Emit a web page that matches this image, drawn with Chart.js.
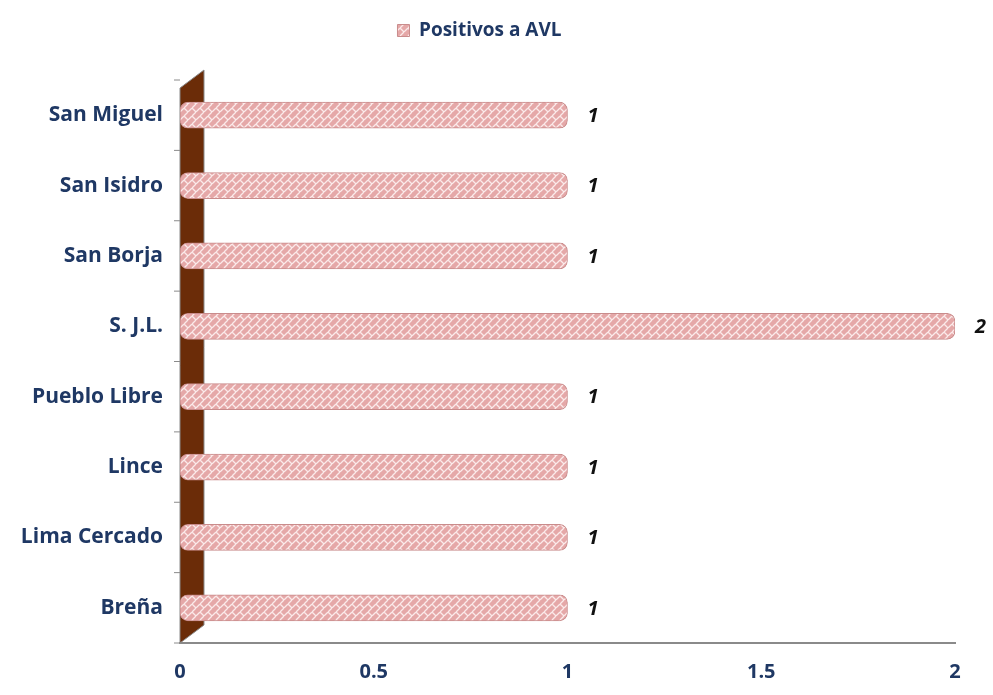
<!DOCTYPE html>
<html lang="es">
<head>
<meta charset="UTF-8">
<title>Positivos a AVL</title>
<script src="https://cdn.jsdelivr.net/npm/chart.js"></script>
<style>
    body { margin: 0; background: #fff; }
    #wrap { width: 993px; height: 695px; position: relative; }
</style>
</head>
<body>
<div id="wrap"><canvas id="chart"></canvas></div>
<script>
    const categories = ['San Miguel', 'San Isidro', 'San Borja', 'S. J.L.', 'Pueblo Libre', 'Lince', 'Lima Cercado', 'Breña'];
    const positivos = [1, 1, 1, 2, 1, 1, 1, 1];
    const xTicks = [0, 0.5, 1, 1.5, 2];

    const navy = '#1f3864';

    // woven pink pattern for the bars
    function makePattern() {
        const c = document.createElement('canvas');
        c.width = 8; c.height = 8;
        const g = c.getContext('2d');
        g.fillStyle = '#e5a8a8';
        g.fillRect(0, 0, 8, 8);
        g.strokeStyle = '#fbeaea';
        g.lineWidth = 1.3;
        g.beginPath();
        g.moveTo(0, 4); g.lineTo(4, 0);
        g.moveTo(4, 8); g.lineTo(8, 4);
        g.moveTo(0, 4); g.lineTo(4, 8);
        g.stroke();
        return g.createPattern(c, 'repeat');
    }
    const pattern = makePattern();

    // extra room under the legend
    const legendGap = {
        id: 'legendGap',
        beforeInit(chart) {
            const fit = chart.legend.fit;
            chart.legend.fit = function () {
                fit.bind(chart.legend)();
                this.height += 30;
            };
        }
    };

    // brown side wall + category ticks
    const wallPlugin = {
        id: 'wall',
        beforeDatasetsDraw(chart) {
            const { ctx, chartArea: a } = chart;
            ctx.save();
            ctx.fillStyle = '#6b2c08';
            ctx.strokeStyle = '#8a8a8a';
            ctx.beginPath();
            ctx.moveTo(a.left, a.top + 8);
            ctx.lineTo(a.left + 24, a.top - 10);
            ctx.lineTo(a.left + 24, a.bottom - 18);
            ctx.lineTo(a.left, a.bottom);
            ctx.closePath();
            ctx.fill();
            ctx.stroke();
            const n = categories.length;
            const h = (a.bottom - a.top) / n;
            ctx.beginPath();
            for (let i = 0; i <= n; i++) {
                const y = a.top + i * h;
                ctx.moveTo(a.left - 6, y);
                ctx.lineTo(a.left, y);
            }
            ctx.stroke();
            ctx.restore();
        }
    };

    // value labels
    const valuePlugin = {
        id: 'values',
        afterDatasetsDraw(chart) {
            const { ctx } = chart;
            const meta = chart.getDatasetMeta(0);
            ctx.save();
            ctx.fillStyle = '#111';
            ctx.font = 'italic bold 20px "Open Sans", sans-serif';
            ctx.textBaseline = 'middle';
            meta.data.forEach((bar, i) => {
                ctx.fillText(String(positivos[i]), bar.x + 20, bar.y + 1);
            });
            ctx.restore();
        }
    };

    new Chart(document.getElementById('chart'), {
        type: 'bar',
        data: {
            labels: categories,
            datasets: [{
                label: 'Positivos a AVL',
                data: positivos,
                backgroundColor: pattern,
                borderColor: '#c98c8c',
                borderWidth: 1,
                borderRadius: 8,
                borderSkipped: false,
                barThickness: 26
            }]
        },
        options: {
            indexAxis: 'y',
            responsive: true,
            maintainAspectRatio: false,
            animation: false,
            layout: { padding: { left: 4, right: 38, top: 0, bottom: 0 } },
            plugins: {
                legend: {
                    position: 'top',
                    labels: {
                        color: navy,
                        font: { family: '"Open Sans", sans-serif', size: 19, weight: 'bold' },
                        boxWidth: 12,
                        boxHeight: 12,
                        padding: 21
                    }
                },
                tooltip: { enabled: false }
            },
            scales: {
                x: {
                    min: 0,
                    max: 2,
                    afterBuildTicks(scale) {
                        scale.ticks = xTicks.map(v => ({ value: v }));
                    },
                    grid: { display: false, drawTicks: true, tickLength: 6, color: '#8a8a8a' },
                    border: { display: true, color: '#8a8a8a', width: 2 },
                    ticks: {
                        color: navy,
                        padding: 11,
                        callback: v => String(v),
                        font: { family: '"Open Sans", sans-serif', size: 20, weight: 'bold' }
                    }
                },
                y: {
                    grid: { display: false },
                    border: { display: false },
                    afterFit(scale) { scale.width = 176; },
                    ticks: {
                        color: navy,
                        padding: 9,
                        font: { family: '"Open Sans", sans-serif', size: 21, weight: 'bold' }
                    }
                }
            }
        },
        plugins: [legendGap, wallPlugin, valuePlugin]
    });
</script>
</body>
</html>
